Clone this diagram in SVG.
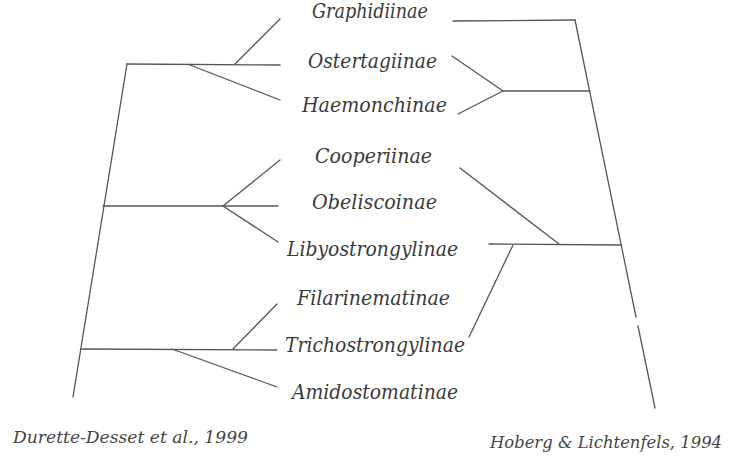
<svg xmlns="http://www.w3.org/2000/svg" width="734" height="463" viewBox="0 0 734 463">
<style>
.bg{fill:#ffffff}
.lbl{font-family:"DejaVu Serif","Liberation Serif",serif;font-style:italic;font-size:20px;fill:#3a3a3a}
.cap{font-family:"DejaVu Serif","Liberation Serif",serif;font-style:italic;font-size:16px;fill:#444444}
.ln{stroke:#555555;stroke-width:1.3;fill:none;stroke-linecap:round;stroke-linejoin:round}
</style>
<rect class="bg" x="0" y="0" width="734" height="463"/>
<g id="connectors">
  <!-- left tree (Durette-Desset et al., 1999) -->
  <path class="ln" d="M127,64 L73,397"/>
  <path class="ln" d="M127,64 L280,65"/>
  <path class="ln" d="M235,64 L280,19"/>
  <path class="ln" d="M190,65 L280,100"/>
  <path class="ln" d="M103,206 L278,206"/>
  <path class="ln" d="M223,206 L280,160"/>
  <path class="ln" d="M223,206 L278,242"/>
  <path class="ln" d="M81,349 L277,350"/>
  <path class="ln" d="M233,349 L277,304"/>
  <path class="ln" d="M172,349 L277,387"/>
  <!-- right tree (Hoberg & Lichtenfels, 1994) -->
  <path class="ln" d="M453,21 L575,20"/>
  <path class="ln" d="M575,20 L636,317"/>
  <path class="ln" d="M638,326 L655,408"/>
  <path class="ln" d="M452,56 L503,91 L458,114"/>
  <path class="ln" d="M503,91 L590,91"/>
  <path class="ln" d="M460,168 L559,244"/>
  <path class="ln" d="M489,244 L621,245"/>
  <path class="ln" d="M513,245 L469,337"/>
</g>
<g id="n-graphidiinae"><text class="lbl" x="312" y="18" textLength="116" lengthAdjust="spacingAndGlyphs">Graphidiinae</text></g>
<g id="n-ostertagiinae"><text class="lbl" x="308" y="68" textLength="129" lengthAdjust="spacingAndGlyphs">Ostertagiinae</text></g>
<g id="n-haemonchinae"><text class="lbl" x="302" y="112" textLength="145" lengthAdjust="spacingAndGlyphs">Haemonchinae</text></g>
<g id="n-cooperiinae"><text class="lbl" x="315" y="163" textLength="117" lengthAdjust="spacingAndGlyphs">Cooperiinae</text></g>
<g id="n-obeliscoinae"><text class="lbl" x="312" y="209" textLength="125" lengthAdjust="spacingAndGlyphs">Obeliscoinae</text></g>
<g id="n-libyostrongylinae"><text class="lbl" x="287" y="256" textLength="171" lengthAdjust="spacingAndGlyphs">Libyostrongylinae</text></g>
<g id="n-filarinematinae"><text class="lbl" x="297" y="305" textLength="153" lengthAdjust="spacingAndGlyphs">Filarinematinae</text></g>
<g id="n-trichostrongylinae"><text class="lbl" x="285" y="352" textLength="180" lengthAdjust="spacingAndGlyphs">Trichostrongylinae</text></g>
<g id="n-amidostomatinae"><text class="lbl" x="292" y="399" textLength="166" lengthAdjust="spacingAndGlyphs">Amidostomatinae</text></g>
<g id="cap-left"><text class="cap" x="13" y="443" textLength="235" lengthAdjust="spacingAndGlyphs">Durette-Desset et al., 1999</text></g>
<g id="cap-right"><text class="cap" x="490" y="448" textLength="232" lengthAdjust="spacingAndGlyphs">Hoberg &amp; Lichtenfels, 1994</text></g>
</svg>
